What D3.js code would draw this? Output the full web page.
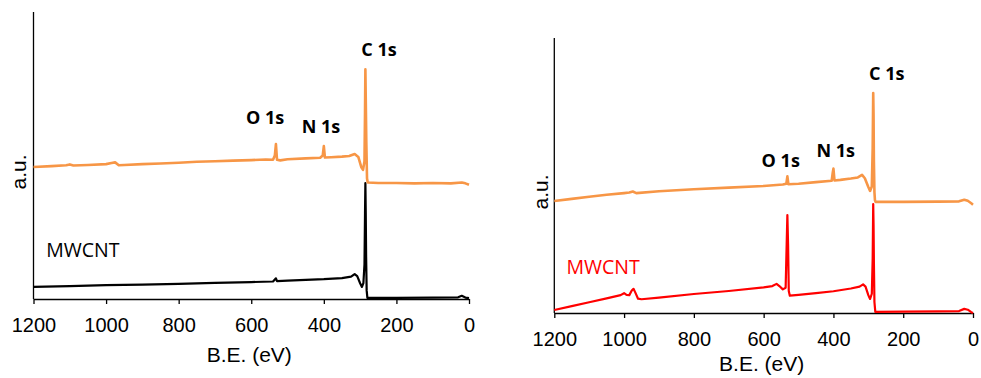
<!DOCTYPE html>
<html>
<head>
<meta charset="utf-8">
<script src="https://cdn.jsdelivr.net/npm/d3@7"></script>
<style>
  body { margin: 0; background: #fff; }
  svg { display: block; }
</style>
</head>
<body>
<div id="chart"></div>
<script>
// Binding energy ticks
const xTicks = [1200, 1000, 800, 600, 400, 200, 0];

// Left panel spectra (B.E. in eV, intensity in a.u., offset stacked)
const leftTopBE = [1200, 1150, 1110, 1100, 1090, 1050, 1000, 985, 975, 965, 950, 900, 850, 800, 750, 700, 650, 600, 560, 540, 535, 532, 529, 520, 500, 450, 410, 403, 400, 397, 380, 350, 330, 315, 305, 297, 292, 288, 286.5, 285.5, 284.5, 283, 281, 279, 250, 200, 150, 100, 50, 20, 10, 0];
const leftTopI  = [46.0, 46.3, 46.6, 46.9, 46.5, 46.7, 47.0, 47.4, 47.6, 46.6, 46.7, 47.0, 47.2, 47.5, 47.8, 48.0, 48.2, 48.4, 48.6, 48.5, 50.0, 54.0, 48.5, 48.3, 48.7, 49.0, 49.2, 50.0, 53.3, 49.3, 49.4, 49.6, 49.8, 50.5, 49.5, 46.0, 45.0, 48.0, 65.0, 80.0, 70.0, 55.0, 42.0, 40.6, 40.4, 40.4, 40.3, 40.4, 40.3, 40.6, 40.3, 39.8];

const leftBotBE = [1200, 1100, 1000, 900, 800, 700, 600, 540, 535, 532, 529, 500, 400, 350, 325, 315, 308, 300, 295, 291, 288, 286.5, 285.5, 284.5, 283.5, 282, 280, 200, 100, 30, 20, 10, 0];
const leftBotI  = [4.2, 4.5, 4.8, 5.0, 5.3, 5.6, 5.9, 6.1, 6.8, 7.2, 6.2, 6.4, 6.9, 7.3, 7.8, 8.7, 8.0, 5.5, 4.2, 5.5, 12.0, 30.0, 40.4, 30.0, 15.0, 3.0, 0.4, 0.4, 0.5, 0.6, 1.1, 0.5, 0.3];

// Right panel spectra
const rightTopBE = [1200, 1150, 1100, 1050, 1000, 985, 975, 965, 900, 800, 700, 600, 545, 535, 532, 529, 500, 450, 405, 402, 400, 397, 380, 350, 330, 318, 310, 300, 295, 290, 287.5, 286, 285, 284, 282.5, 281, 279, 200, 100, 40, 25, 15, 5, 0];
const rightTopI  = [40.7, 41.5, 42.3, 43.0, 43.6, 43.8, 44.2, 43.6, 44.3, 45.0, 45.6, 46.2, 46.7, 47.0, 49.7, 46.8, 47.0, 47.6, 48.1, 51.0, 52.5, 48.2, 48.4, 48.9, 49.3, 50.2, 49.0, 45.8, 44.4, 46.0, 60.0, 80.0, 72.0, 55.0, 44.0, 41.0, 40.4, 40.4, 40.5, 40.6, 41.2, 40.8, 39.9, 39.4];

const rightBotBE = [1200, 1150, 1100, 1050, 1010, 1000, 993, 985, 978, 973, 968, 960, 950, 900, 800, 700, 600, 575, 563, 555, 545, 537, 534, 532, 530, 528, 525, 500, 450, 400, 350, 325, 315, 308, 300, 295, 290, 287.5, 286, 285, 284, 282.5, 280, 200, 100, 40, 25, 15, 5, 0];
const rightBotI  = [1.1, 2.5, 3.9, 5.3, 6.5, 7.2, 6.6, 6.5, 8.2, 8.8, 7.5, 5.2, 5.0, 5.6, 6.9, 8.0, 9.3, 9.8, 10.6, 9.8, 8.6, 9.2, 25.0, 35.6, 25.0, 8.0, 6.3, 6.6, 7.2, 7.9, 8.9, 9.6, 10.4, 9.6, 6.5, 5.1, 7.0, 20.0, 39.6, 32.0, 18.0, 4.0, 0.4, 0.5, 0.6, 0.7, 1.5, 1.2, 0.3, 0.0];

// Peak annotations: [label, B.E., a.u. baseline]
const leftPeaks  = [["C 1s", 248, 84.7], ["O 1s", 562, 61.0], ["N 1s", 408, 57.8]];
const rightPeaks = [["C 1s", 247, 84.7], ["O 1s", 551, 53.1], ["N 1s", 393.5, 56.7]];

const svg = d3.select("#chart")
  .append("svg")
  .attr("width", 981)
  .attr("height", 378);

function drawPanel(p) {
  const g = svg.append("g")
    .attr("transform", `translate(${p.left},${p.top})`);

  const x = d3.scaleLinear().domain([1200, 0]).range([0, p.width]);
  const y = d3.scaleLinear().domain([0, 100]).range([p.height, 0]);

  // X axis
  const xAxis = g.append("g")
    .attr("transform", `translate(0,${p.height})`)
    .call(d3.axisBottom(x).tickValues(xTicks).tickFormat(d3.format("d"))
      .tickSize(5).tickPadding(14).tickSizeOuter(0));
  xAxis.select(".domain").attr("stroke", "#000").attr("stroke-width", 1.3);
  xAxis.selectAll(".tick line").attr("stroke", "#000").attr("stroke-width", 1.3);
  xAxis.selectAll("text")
    .style("font-family", "'Liberation Sans', Arial, sans-serif")
    .style("font-size", "20px")
    .attr("fill", "#000");

  // Y axis (line only)
  g.append("line")
    .attr("x1", 0).attr("x2", 0)
    .attr("y1", 0).attr("y2", p.height)
    .attr("stroke", "#000")
    .attr("stroke-width", 1.3);

  // Axis labels
  g.append("text")
    .attr("x", p.width / 2 - 2)
    .attr("y", p.height + p.titleDy)
    .attr("text-anchor", "middle")
    .style("font-family", "'Liberation Sans', Arial, sans-serif")
    .style("font-size", "21px")
    .text("B.E. (eV)");

  g.append("text")
    .attr("transform", `translate(${p.yLabelX},${p.yLabelY}) rotate(-90)`)
    .attr("text-anchor", "middle")
    .style("font-family", "'Liberation Sans', Arial, sans-serif")
    .style("font-size", "21px")
    .text("a.u.");

  const line = d3.line()
    .x(d => x(d[0]))
    .y(d => y(d[1]));

  // Bottom spectrum
  g.append("path")
    .datum(d3.zip(p.botBE, p.botI))
    .attr("fill", "none")
    .attr("stroke", p.botColor)
    .attr("stroke-width", 2.2)
    .attr("stroke-linejoin", "round")
    .attr("d", line);

  // Top spectrum
  g.append("path")
    .datum(d3.zip(p.topBE, p.topI))
    .attr("fill", "none")
    .attr("stroke", "#F79646")
    .attr("stroke-width", 2.6)
    .attr("stroke-linejoin", "round")
    .attr("d", line);

  // Peak labels
  g.selectAll(".peak")
    .data(p.peaks)
    .join("text")
    .attr("class", "peak")
    .attr("x", d => x(d[1]))
    .attr("y", d => y(d[2]))
    .attr("text-anchor", "middle")
    .style("font-family", "'Open Sans', sans-serif")
    .style("font-weight", "bold")
    .style("font-size", "18px")
    .text(d => d[0]);

  // Sample label
  g.append("text")
    .attr("x", x(1165))
    .attr("y", y(p.sampleI))
    .attr("fill", p.botColor)
    .style("font-family", "'Open Sans', sans-serif")
    .style("font-size", "19.5px")
    .text("MWCNT");
}

drawPanel({
  left: 33.5, top: 12, width: 435.5, height: 287,
  topBE: leftTopBE, topI: leftTopI, botBE: leftBotBE, botI: leftBotI,
  botColor: "#000", peaks: leftPeaks, sampleI: 14.6,
  titleDy: 63, yLabelX: -8, yLabelY: 160
});

drawPanel({
  left: 554.3, top: 38, width: 418.7, height: 275,
  topBE: rightTopBE, topI: rightTopI, botBE: rightBotBE, botI: rightBotI,
  botColor: "#FF0000", peaks: rightPeaks, sampleI: 14.2,
  titleDy: 58, yLabelX: -6, yLabelY: 154
});
</script>
</body>
</html>
